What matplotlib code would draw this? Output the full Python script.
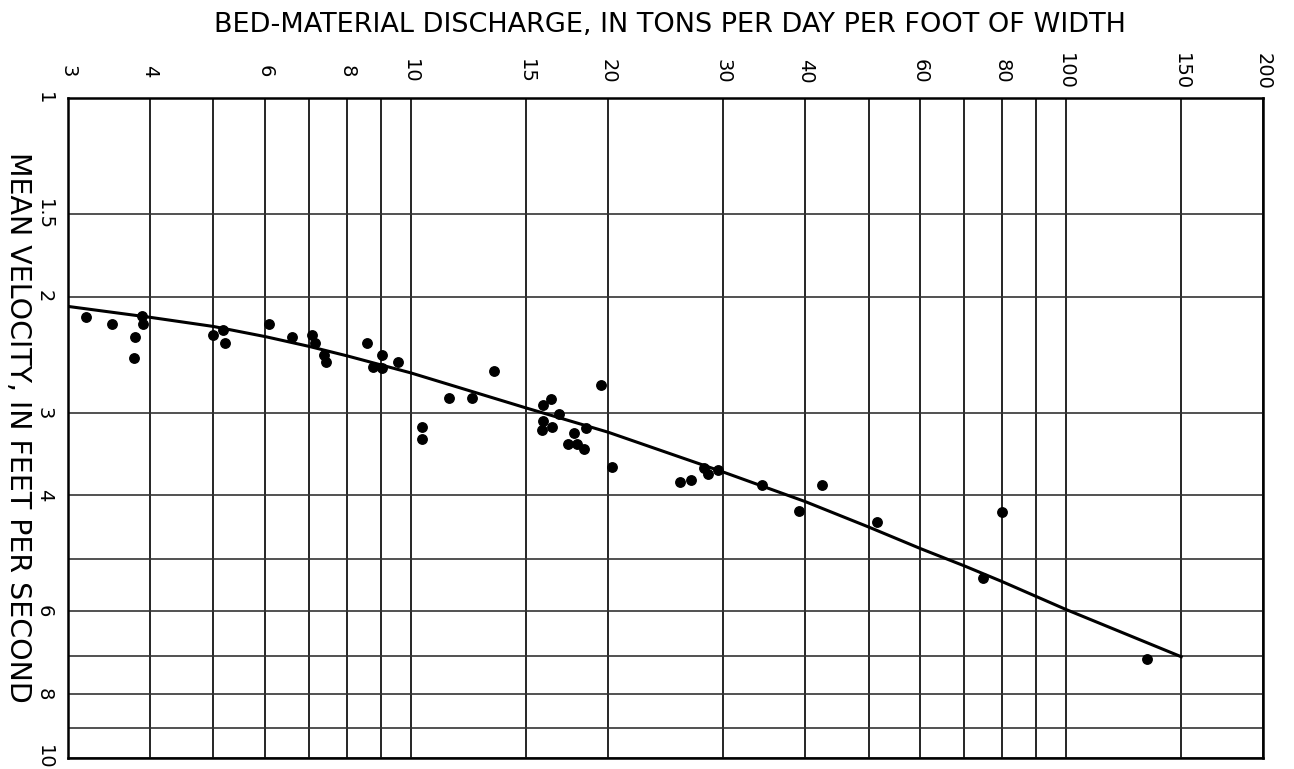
import numpy as np
import matplotlib
matplotlib.use("Agg")
import matplotlib.pyplot as plt
from matplotlib.ticker import FixedLocator, NullFormatter

# ================= DATA =================
# observed points: bed-material discharge (tons/day/ft) vs mean velocity (ft/s)
Q_OBS = [3.20, 3.50, 3.79, 3.78, 3.89, 3.91, 5.00, 5.17, 5.20, 6.07,
         6.59, 7.07, 7.14, 7.37, 7.43, 8.57, 8.75, 9.05, 9.03, 9.55,
         10.4, 10.4, 11.45, 12.4, 13.4, 15.9, 16.4, 16.85, 15.9, 15.85,
         16.45, 17.75, 18.5, 17.4, 17.97, 18.4, 19.5, 20.3, 25.8, 26.8,
         28.0, 28.4, 29.4, 34.4, 39.2, 42.4, 51.5, 74.8, 80.0, 132.9]
V_OBS = [2.15, 2.20, 2.30, 2.48, 2.14, 2.20, 2.29, 2.25, 2.35, 2.20,
         2.30, 2.29, 2.35, 2.45, 2.51, 2.35, 2.56, 2.45, 2.57, 2.51,
         3.15, 3.29, 2.85, 2.85, 2.59, 2.92, 2.86, 3.01, 3.09, 3.19,
         3.15, 3.22, 3.16, 3.35, 3.35, 3.41, 2.72, 3.62, 3.82, 3.79,
         3.64, 3.72, 3.67, 3.86, 4.22, 3.86, 4.39, 5.34, 4.24, 7.09]

# fitted curve
CURVE_Q = [3, 4, 5, 6, 7, 8, 10, 15, 20, 30, 40, 50, 60, 70, 80, 100, 150]
CURVE_V = [2.07, 2.15, 2.22, 2.30, 2.38, 2.46, 2.61, 2.95, 3.21, 3.69,
           4.09, 4.47, 4.82, 5.12, 5.41, 5.96, 7.03]

X_LABELED = [3, 4, 6, 8, 10, 15, 20, 30, 40, 60, 80, 100, 150, 200]
X_UNLABELED = [5, 7, 9, 50, 70, 90]
Y_LABELED = [1, 1.5, 2, 3, 4, 6, 8, 10]
Y_UNLABELED = [5, 7, 9]

TITLE = "BED-MATERIAL DISCHARGE, IN TONS PER DAY PER FOOT OF WIDTH"
YLABEL = "MEAN VELOCITY, IN FEET PER SECOND"
# ========================================

plt.rcParams["font.family"] = ["DejaVu Sans"]

fig = plt.figure(figsize=(12.94, 7.69), dpi=100)
ax = fig.add_axes([0.0526, 0.0147, 0.9235, 0.8579])

ax.set_xscale("log")
ax.set_yscale("log")
ax.set_xlim(3, 200)
ax.set_ylim(10, 1)

# ---------- grid ----------
ax.xaxis.set_major_locator(FixedLocator(X_LABELED))
ax.xaxis.set_minor_locator(FixedLocator(X_UNLABELED))
ax.yaxis.set_major_locator(FixedLocator(Y_LABELED))
ax.yaxis.set_minor_locator(FixedLocator(Y_UNLABELED))
ax.xaxis.set_minor_formatter(NullFormatter())
ax.yaxis.set_minor_formatter(NullFormatter())
ax.set_xticklabels([f"{v:g}" for v in X_LABELED])
ax.set_yticklabels([f"{v:g}" for v in Y_LABELED])

ax.grid(True, axis="x", which="both", color="black", linewidth=1.2)
ax.grid(True, axis="y", which="both", color="#333333", linewidth=1.2)
ax.set_axisbelow(True)

ax.xaxis.tick_top()
ax.tick_params(axis="both", which="both", length=0)
ax.tick_params(axis="x", pad=19, labelsize=14)
ax.tick_params(axis="y", pad=17, labelsize=14)
for lab in ax.get_xticklabels():
    lab.set_rotation(-90)
    lab.set_va("center")
    lab.set_ha("center")
for lab in ax.get_yticklabels():
    lab.set_rotation(-90)
    lab.set_va("center")
    lab.set_ha("center")

for sp in ax.spines.values():
    sp.set_linewidth(1.8)
    sp.set_color("black")

# ---------- data ----------
ax.plot(CURVE_Q, CURVE_V, color="black", linewidth=2.2, zorder=3)
ax.plot(Q_OBS, V_OBS, "o", color="black", markersize=6.8, zorder=4)

# ---------- labels ----------
fig.text(0.518, 1 - 25 / 769, TITLE, ha="center", va="center", fontsize=19.5)
fig.text(0.014, 1 - 427 / 769, YLABEL, ha="center", va="center",
         rotation=-90, fontsize=20.5)

fig.savefig("out.png", dpi=100)
